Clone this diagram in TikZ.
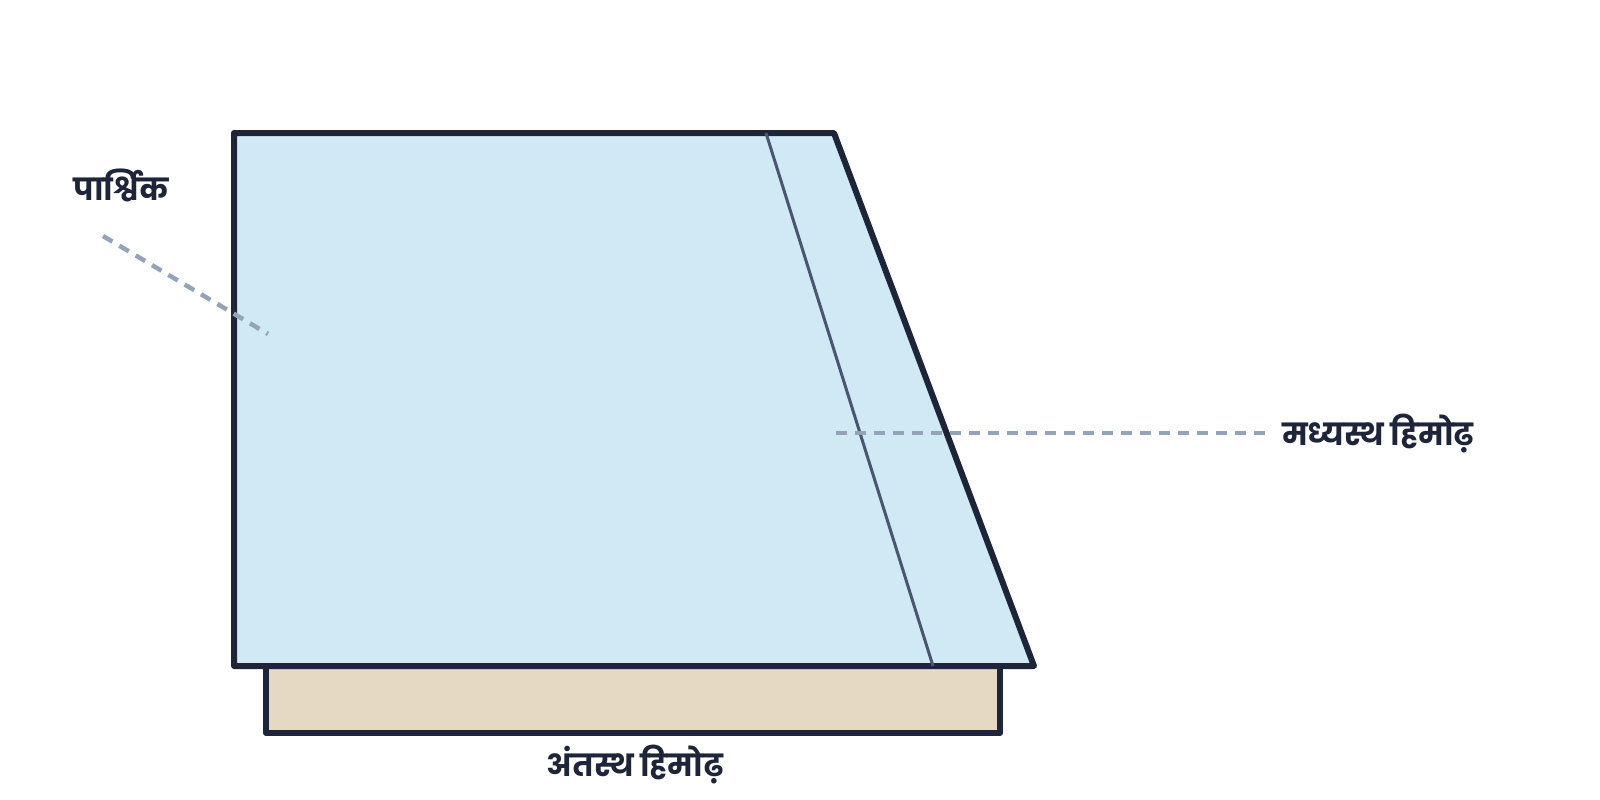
\documentclass[tikz,border=0pt]{standalone}
\usepackage{fontspec}
\newfontfamily\hindifont[Script=Devanagari]{Poppins}
\usetikzlibrary{positioning}

\definecolor{iceblue}{HTML}{D0E9F5}
\definecolor{inkdark}{HTML}{1E2538}
\definecolor{seamgrey}{HTML}{4A5570}
\definecolor{leadgrey}{HTML}{94A3B8}
\definecolor{rockbeige}{HTML}{E5D9C3}

\begin{document}
\begin{tikzpicture}[x=1pt, y=-1pt
    , every node/.style={}
    , outline/.style={draw=inkdark, line width=6pt, line join=round}
    , leader/.style={draw=leadgrey, line width=4.5pt, dash pattern=on 11pt off 8pt}
    , label/.style={font=\hindifont\bfseries\fontsize{30.5}{36}\selectfont, text=inkdark, inner sep=0pt}
    ]

    \useasboundingbox (0,0) rectangle (1600,800);

    % Rock bed under the glacier
    \filldraw[fill=rockbeige, outline] (266,666) rectangle (1000,733);

    %% The glacier body.
    \filldraw[fill=iceblue, outline]
        (234,133) coordinate (nw) -- (834,133) coordinate (ne)
        -- (1034,666) coordinate (se) -- (234,666) coordinate (sw) -- cycle;

    % seam between the two ice streams
    \coordinate (seamtop) at (766,133);
    \coordinate (seambot) at (933,666);
    \draw[seamgrey, line width=3pt] (seamtop) -- (seambot);

    % labels
    \node[label] (lateral) at (121,185) {पार्श्विक};
    \node[label] (medial) at (1378,434) {मध्यस्थ हिमोढ़};
    \node[label] (terminal) at (635,765) {अंतस्थ हिमोढ़};

    % leader lines
    \coordinate (latfrom) at (103,236);
    \coordinate (latto) at (268,334);
    \path[leader] (latfrom) -- (latto);
    \coordinate (medfrom) at (1265,433);
    \coordinate (medto) at (834,433);
    \path[leader] (medfrom) -- (medto);

\end{tikzpicture}
\end{document}
